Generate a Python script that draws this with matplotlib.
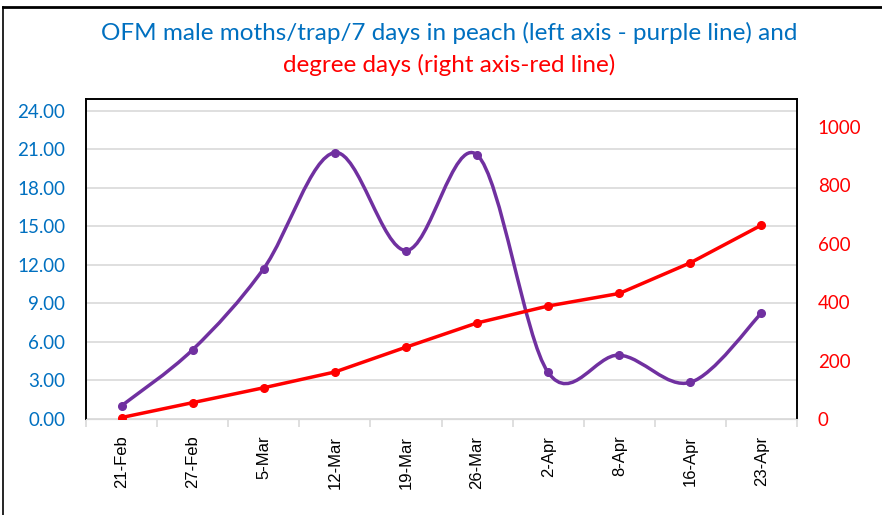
import matplotlib
matplotlib.use('Agg')
import matplotlib.pyplot as plt
from matplotlib.path import Path
from matplotlib.patches import PathPatch
from matplotlib.lines import Line2D

dates = ["21-Feb", "27-Feb", "5-Mar", "12-Mar", "19-Mar", "26-Mar",
         "2-Apr", "8-Apr", "16-Apr", "23-Apr"]
moths = [1.03, 5.39, 11.71, 20.73, 13.11, 20.55, 3.62, 4.97, 2.85, 8.24]
degree_days = [5, 56, 107, 161, 246, 329, 387, 430, 535, 664]

left_ticks = [0, 3, 6, 9, 12, 15, 18, 21, 24]
right_ticks = [0, 200, 400, 600, 800, 1000]

PURPLE = "#7030A0"
RED = "#FF0000"
BLUE = "#0070C0"
plt.rcParams['font.family'] = ['Lato', 'DejaVu Sans']


def smooth_path(xs, ys):
    # Excel-style smoothed line: cubic Bezier segments through each point
    pts = list(zip(xs, ys))
    verts = [pts[0]]
    codes = [Path.MOVETO]
    n = len(pts)
    for i in range(n - 1):
        p0 = pts[max(i - 1, 0)]
        p1 = pts[i]
        p2 = pts[i + 1]
        p3 = pts[min(i + 2, n - 1)]
        c1 = (p1[0] + (p2[0] - p0[0]) / 6, p1[1] + (p2[1] - p0[1]) / 6)
        c2 = (p2[0] - (p3[0] - p1[0]) / 6, p2[1] - (p3[1] - p1[1]) / 6)
        verts += [c1, c2, p2]
        codes += [Path.CURVE4] * 3
    return Path(verts, codes)


fig = plt.figure(figsize=(8.82, 5.15), dpi=100)
ax = fig.add_axes([86 / 882, 1 - 419 / 515, 711 / 882, 320 / 515])
ax2 = ax.twinx()

x = list(range(len(dates)))

ax.set_xlim(-0.5, len(dates) - 0.5)
ax.set_ylim(0, 24.9)
ax2.set_ylim(0, 1096)

for t in left_ticks:
    ax.axhline(t, color="#d9d9d9", lw=1.2, zorder=0)

ax.add_patch(PathPatch(smooth_path(x, moths), facecolor="none",
                       edgecolor=PURPLE, lw=2.5, zorder=3,
                       capstyle="round", joinstyle="round"))
ax.plot(x, moths, ls="none", marker="o", ms=5.5, color=PURPLE, zorder=4)

ax2.plot(x, degree_days, color=RED, lw=2.5, marker="o", ms=5.5, zorder=3)

ax.set_yticks(left_ticks)
ax.set_yticklabels([f"{t:.2f}" for t in left_ticks])
ax.tick_params(axis="y", length=0, pad=15, labelsize=13.5, labelcolor=BLUE)

ax2.set_yticks(right_ticks)
ax2.set_yticklabels([str(t) for t in right_ticks])
ax2.tick_params(axis="y", length=0, pad=15, labelsize=13.5, labelcolor=RED)

# category labels at the centre, tick marks at the boundaries
ax.set_xticks(x)
ax.set_xticklabels(dates, rotation=90, fontsize=12,
                   family=['Liberation Sans', 'DejaVu Sans'])
ax.tick_params(axis="x", length=0, pad=12)
ax.set_xticks([i - 0.5 for i in range(len(dates) + 1)], minor=True)
ax.tick_params(axis="x", which="minor", length=6, color="#d9d9d9", width=1.2)

for s in ["left", "top", "right"]:
    ax.spines[s].set_color("black")
    ax.spines[s].set_linewidth(1.2)
    ax2.spines[s].set_color("black")
    ax2.spines[s].set_linewidth(1.2)
ax.spines["bottom"].set_color("#d9d9d9")
ax2.spines["bottom"].set_color("#d9d9d9")

fig.text(0.509, 1 - 33 / 515, "OFM male moths/trap/7 days in peach (left axis - purple line) and",
         ha="center", va="center", fontsize=17.5, color=BLUE)
fig.text(0.509, 1 - 65 / 515, "degree days (right axis-red line)",
         ha="center", va="center", fontsize=17.5, color=RED)

# outer chart frame (top and left edges visible)
fig.add_artist(Line2D([3 / 882, 1], [1 - 7 / 515, 1 - 7 / 515], color="black", lw=2,
                      transform=fig.transFigure))
fig.add_artist(Line2D([3 / 882, 3 / 882], [0, 1 - 7 / 515], color="black", lw=1.2,
                      transform=fig.transFigure))

fig.savefig("out.png", dpi=100)
